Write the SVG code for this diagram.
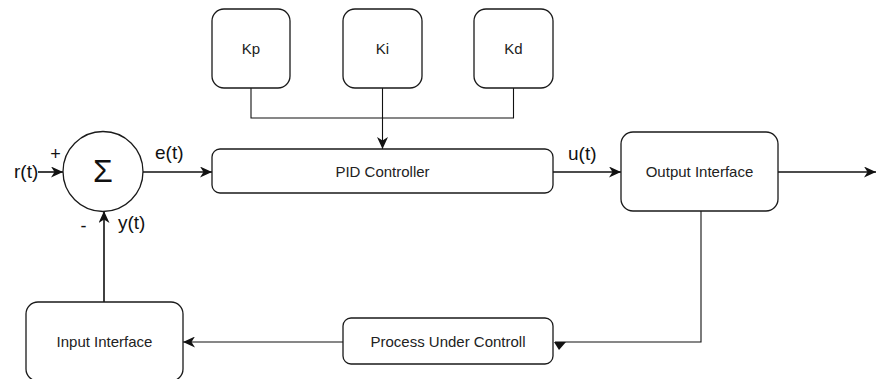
<svg xmlns="http://www.w3.org/2000/svg" width="876" height="379" viewBox="0 0 876 379">
  <style>
    .box { fill: #ffffff; stroke: #1a1a1a; stroke-width: 1.3; }
    .lbl { font-family: "Liberation Sans", Arial, sans-serif; font-size: 15px; fill: #222222; text-anchor: middle; }
    .sig { font-family: "Liberation Sans", Arial, sans-serif; font-size: 19px; fill: #111111; }
    .sign { font-family: "Liberation Sans", Arial, sans-serif; font-size: 18px; fill: #111111; text-anchor: middle; }
    .wire { fill: none; stroke: #111111; stroke-width: 1.6; }
    .thin { fill: none; stroke: #111111; stroke-width: 1.1; }
  </style>
  <defs>
    <marker id="arrow" markerUnits="userSpaceOnUse" markerWidth="13" markerHeight="11" viewBox="0 0 13 11" refX="12" refY="5.5" orient="auto">
      <path d="M0,0 L12,5.5 L0,11 L3.5,5.5 Z" fill="#111111"/>
    </marker>
  </defs>

  <rect width="876" height="379" fill="#ffffff"/>

  <!-- connectors -->
  <g id="connectors">
    <path class="wire" d="M38,172 H63" marker-end="url(#arrow)"/>
    <path class="wire" d="M143,172 H212" marker-end="url(#arrow)"/>
    <path class="thin" d="M251,88 V118 H513.5 V88"/>
    <path class="thin" d="M382.5,88 V149" marker-end="url(#arrow)"/>
    <path class="wire" d="M553,172 H621" marker-end="url(#arrow)"/>
    <path class="wire" d="M778,172 H876" marker-end="url(#arrow)"/>
    <path class="thin" d="M701,211 V342 H555"/>
    <polygon points="554,342 566,342 559,350" fill="#111111"/>
    <path class="thin" d="M343,342 H183" marker-end="url(#arrow)"/>
    <path class="wire" d="M104,302 V211" marker-end="url(#arrow)"/>
  </g>

  <!-- signal labels -->
  <g id="signal-labels">
    <text class="sig" x="14" y="178">r(t)</text>
    <text class="sign" x="55.5" y="159.5">+</text>
    <text class="sig" x="155" y="159">e(t)</text>
    <text class="sign" x="83.5" y="232">-</text>
    <text class="sig" x="118" y="229">y(t)</text>
    <text class="sig" x="568" y="160">u(t)</text>
  </g>

  <g id="sum">
    <circle cx="103" cy="171.5" r="40" fill="#ffffff" stroke="#1a1a1a" stroke-width="1.3"/>
    <text x="103" y="182" font-family="Liberation Sans, Arial, sans-serif" font-size="32" fill="#111111" text-anchor="middle">Σ</text>
  </g>

  <g id="kp">
    <rect class="box" x="212" y="9" width="78" height="79" rx="12"/>
    <text class="lbl" x="251" y="54">Kp</text>
  </g>
  <g id="ki">
    <rect class="box" x="343" y="9" width="79" height="79" rx="12"/>
    <text class="lbl" x="382.5" y="54">Ki</text>
  </g>
  <g id="kd">
    <rect class="box" x="474" y="9" width="79" height="79" rx="12"/>
    <text class="lbl" x="513.5" y="54">Kd</text>
  </g>

  <g id="pid-controller">
    <rect class="box" x="212" y="149" width="341" height="44" rx="8"/>
    <text class="lbl" x="382.5" y="177">PID Controller</text>
  </g>

  <g id="output-interface">
    <rect class="box" x="621" y="132" width="157" height="79" rx="12"/>
    <text class="lbl" x="699.5" y="177">Output Interface</text>
  </g>

  <g id="process">
    <rect class="box" x="343" y="318" width="210" height="46" rx="8"/>
    <text class="lbl" x="448" y="347">Process Under Controll</text>
  </g>

  <g id="input-interface">
    <rect class="box" x="26" y="302" width="157" height="79" rx="12"/>
    <text class="lbl" x="104.5" y="347">Input Interface</text>
  </g>
</svg>
